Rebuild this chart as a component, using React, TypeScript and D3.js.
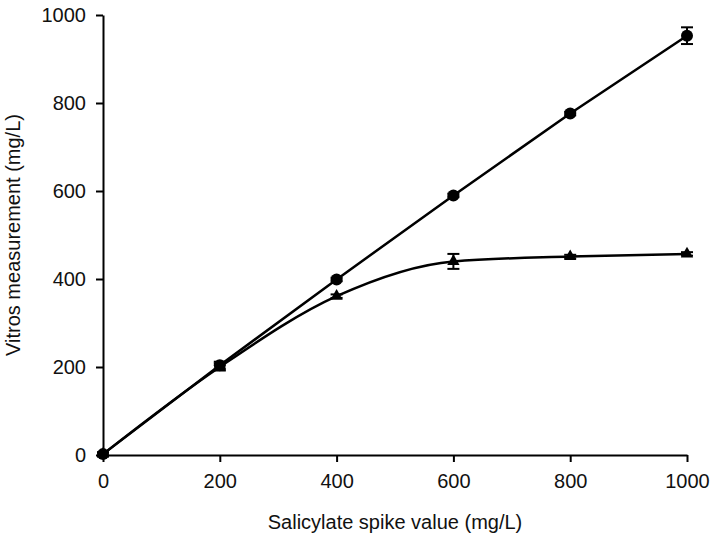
import React, { useRef, useEffect } from 'react';
import * as d3 from 'd3';

// spike values (mg/L)
const spikeValues = [0, 200, 400, 600, 800, 1000];
// Vitros measurement, circles series
const circleValues = [2, 204, 399, 590, 776, 953];
const circleErrors = [4, 8, 4, 4, 4, 19];
// Vitros measurement, triangles series
const triangleValues = [2, 200, 361, 440, 451, 457];
const triangleErrors = [4, 8, 4, 17, 4, 4];
const xTicks = [0, 200, 400, 600, 800, 1000];
const yTicks = [0, 200, 400, 600, 800, 1000];

const App = () => {
  const svgRef = useRef(null);

  useEffect(() => {
    document.body.style.margin = '0'; // drop the default 8px page margin

    const svg = d3.select(svgRef.current);
    svg.selectAll('*').remove();

    const width = 713;
    const height = 535;
    const margin = { top: 15, right: 26, bottom: 80, left: 103 };
    const font = 'Liberation Sans, Arial, sans-serif';
    const fontSize = 20;

    const x = d3.scaleLinear().domain([0, 1000]).range([margin.left, width - margin.right]);
    const y = d3.scaleLinear().domain([0, 1000]).range([height - margin.bottom, margin.top]);

    // axes
    const xAxis = svg
      .append('g')
      .attr('transform', `translate(0, ${y(0)})`)
      .call(d3.axisBottom(x).tickValues(xTicks).tickFormat(d3.format('d')).tickSize(7).tickSizeOuter(0));
    const yAxis = svg
      .append('g')
      .attr('transform', `translate(${x(0)}, 0)`)
      .call(d3.axisLeft(y).tickValues(yTicks).tickFormat(d3.format('d')).tickSize(7).tickSizeOuter(0).tickPadding(10));

    [xAxis, yAxis].forEach(g => {
      g.select('.domain').attr('stroke', '#000').attr('stroke-width', 2);
      g.selectAll('.tick line').attr('stroke', '#000').attr('stroke-width', 2);
      g.selectAll('.tick text')
        .attr('font-family', font)
        .attr('font-size', fontSize)
        .attr('fill', '#111');
    });
    xAxis.selectAll('.tick text').attr('y', 33).attr('dy', 0);

    // axis titles
    svg
      .append('text')
      .attr('x', (x(0) + x(1000)) / 2)
      .attr('y', 529)
      .attr('text-anchor', 'middle')
      .attr('font-family', font)
      .attr('font-size', fontSize)
      .attr('fill', '#111')
      .text('Salicylate spike value (mg/L)');

    svg
      .append('text')
      .attr('transform', `translate(20, ${(y(0) + y(1000)) / 2}) rotate(-90)`)
      .attr('text-anchor', 'middle')
      .attr('font-family', font)
      .attr('font-size', fontSize)
      .attr('fill', '#111')
      .text('Vitros measurement (mg/L)');

    const circleData = spikeValues.map((s, i) => ({ s, v: circleValues[i], e: circleErrors[i] }));
    const triangleData = spikeValues.map((s, i) => ({ s, v: triangleValues[i], e: triangleErrors[i] }));

    // lines
    svg
      .append('path')
      .datum(circleData)
      .attr('fill', 'none')
      .attr('stroke', '#000')
      .attr('stroke-width', 2.5)
      .attr('d', d3.line<any>().x(d => x(d.s)).y(d => y(d.v)));

    svg
      .append('path')
      .datum(triangleData)
      .attr('fill', 'none')
      .attr('stroke', '#000')
      .attr('stroke-width', 2.5)
      .attr('d', d3.line<any>().curve(d3.curveMonotoneX).x(d => x(d.s)).y(d => y(d.v)));

    // error bars
    const drawErrors = (data, cls) => {
      const g = svg.append('g').attr('class', cls).attr('stroke', '#000').attr('stroke-width', 2);
      data.forEach(d => {
        g.append('line')
          .attr('x1', x(d.s)).attr('x2', x(d.s))
          .attr('y1', y(d.v - d.e)).attr('y2', y(d.v + d.e));
        [d.v - d.e, d.v + d.e].forEach(v => {
          g.append('line')
            .attr('x1', x(d.s) - 6).attr('x2', x(d.s) + 6)
            .attr('y1', y(v)).attr('y2', y(v));
        });
      });
    };
    drawErrors(circleData, 'circle-err');
    drawErrors(triangleData, 'triangle-err');

    // markers
    svg
      .selectAll('.circle-mark')
      .data(circleData)
      .enter()
      .append('circle')
      .attr('class', 'circle-mark')
      .attr('cx', d => x(d.s))
      .attr('cy', d => y(d.v))
      .attr('r', 6)
      .attr('fill', '#000');

    svg
      .selectAll('.triangle-mark')
      .data(triangleData)
      .enter()
      .append('path')
      .attr('class', 'triangle-mark')
      .attr('transform', d => `translate(${x(d.s)}, ${y(d.v)})`)
      .attr('d', d3.symbol().type(d3.symbolTriangle).size(65)())
      .attr('fill', '#000');
  }, []);

  return <svg ref={svgRef} width={713} height={535} style={{ display: 'block' }} />;
};

export default App;
